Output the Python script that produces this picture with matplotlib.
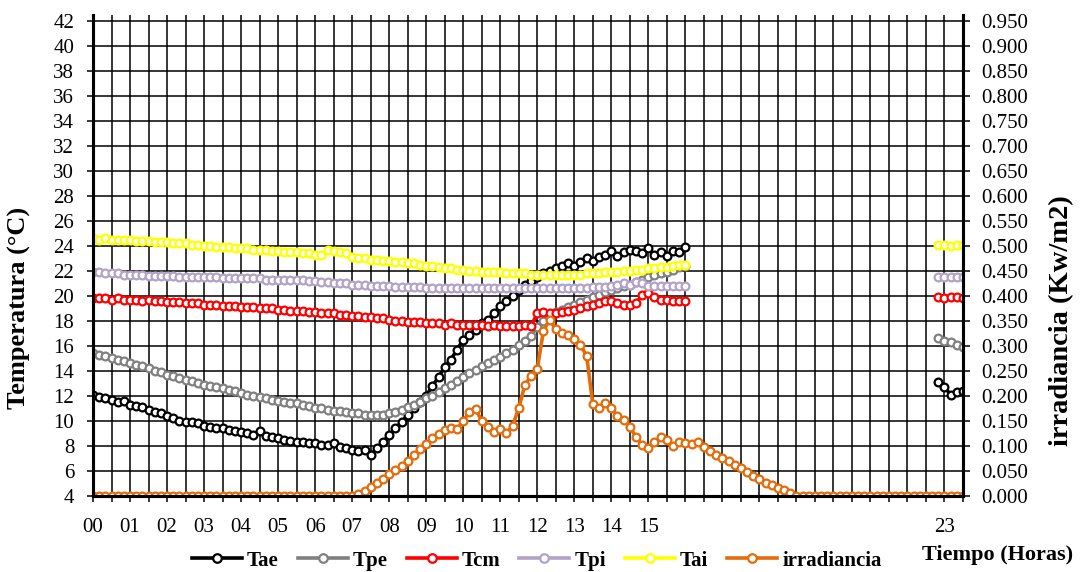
import numpy as np
from matplotlib import pyplot as plt
from matplotlib.lines import Line2D

plt.rcParams['font.family'] = ['Liberation Serif', 'DejaVu Serif']

STEP = 1 / 6  # readings every 10 minutes, in hours

# temperatures 00:00 - 16:00 [°C], one row per hour
tae = [12.1, 11.9, 11.8, 11.7, 11.5, 11.6,
       11.3, 11.2, 11.1, 10.9, 10.7, 10.6,
       10.4, 10.2, 10.0, 9.9, 9.9, 9.8,
       9.6, 9.5, 9.4, 9.4, 9.3, 9.2,
       9.1, 9.0, 8.9, 9.2, 8.8, 8.7,
       8.6, 8.5, 8.4, 8.3, 8.3, 8.2,
       8.2, 8.1, 8.1, 8.2, 7.9, 7.8,
       7.7, 7.6, 7.7, 7.3, 7.8, 8.3,
       8.9, 9.4, 9.9, 10.5, 11.0, 11.5,
       12.0, 12.8, 13.5, 14.3, 14.9, 15.7,
       16.5, 16.9, 17.3, 17.8, 18.1, 18.6,
       19.2, 19.6, 20.0, 20.5, 20.9, 21.2,
       21.5, 21.8, 22.0, 22.2, 22.4, 22.6,
       22.4, 22.7, 23.0, 22.8, 23.1, 23.3,
       23.6, 23.2, 23.5, 23.7, 23.6, 23.4,
       23.8, 23.3, 23.5, 23.2, 23.6, 23.5,
       23.9]
tpe = [15.4, 15.3, 15.2, 15.0, 14.9, 14.8,
       14.6, 14.5, 14.4, 14.2, 14.0, 13.9,
       13.7, 13.6, 13.4, 13.3, 13.2, 13.0,
       12.9, 12.8, 12.7, 12.6, 12.5, 12.4,
       12.2, 12.1, 12.0, 11.9, 11.8, 11.7,
       11.6, 11.5, 11.4, 11.4, 11.3, 11.2,
       11.0, 11.0, 10.9, 10.8, 10.8, 10.7,
       10.6, 10.6, 10.5, 10.45, 10.5, 10.5,
       10.6, 10.7, 10.9, 11.1, 11.3, 11.5,
       11.8, 12.0, 12.3, 12.6, 12.9, 13.2,
       13.5, 13.8, 14.1, 14.4, 14.6, 14.9,
       15.1, 15.4, 15.7, 16.1, 16.4, 16.8,
       17.5, 18.0, 18.3, 18.7, 18.9, 19.1,
       19.3, 19.5, 19.7, 19.9, 20.1, 20.3,
       20.5, 20.6, 20.8, 20.9, 21.1, 21.3,
       21.5, 21.7, 21.8, 21.9, 22.1, 22.3,
       22.4]
tcm = [19.8, 19.8, 19.8, 19.7, 19.8, 19.7,
       19.7, 19.7, 19.6, 19.7, 19.6, 19.6,
       19.5, 19.5, 19.5, 19.4, 19.4, 19.4,
       19.3, 19.3, 19.3, 19.2, 19.2, 19.2,
       19.1, 19.1, 19.1, 19.0, 19.0, 19.0,
       18.9, 18.9, 18.8, 18.8, 18.8, 18.7,
       18.7, 18.6, 18.6, 18.6, 18.5, 18.5,
       18.4, 18.4, 18.3, 18.3, 18.2, 18.2,
       18.1, 18.0, 18.0, 17.9, 17.9, 17.9,
       17.8, 17.8, 17.8, 17.7, 17.8, 17.7,
       17.7, 17.7, 17.7, 17.7, 17.6, 17.7,
       17.6, 17.6, 17.6, 17.6, 17.7, 17.6,
       18.6, 18.7, 18.6, 18.6, 18.7, 18.8,
       18.9, 19.0, 19.2, 19.3, 19.4, 19.6,
       19.6, 19.4, 19.3, 19.3, 19.4, 20.1,
       20.2, 19.9, 19.7, 19.7, 19.6, 19.6,
       19.6]
tpi = [21.9, 21.9, 21.8, 21.8, 21.8, 21.7,
       21.7, 21.7, 21.7, 21.6, 21.6, 21.6,
       21.6, 21.6, 21.5, 21.5, 21.5, 21.5,
       21.5, 21.5, 21.5, 21.4, 21.4, 21.4,
       21.4, 21.4, 21.4, 21.4, 21.3, 21.3,
       21.3, 21.3, 21.3, 21.3, 21.3, 21.2,
       21.2, 21.1, 21.1, 21.0, 21.0, 21.0,
       20.9, 20.9, 20.9, 20.8, 20.8, 20.8,
       20.8, 20.7, 20.7, 20.7, 20.7, 20.7,
       20.6, 20.6, 20.6, 20.6, 20.6, 20.6,
       20.6, 20.6, 20.6, 20.6, 20.6, 20.6,
       20.6, 20.6, 20.6, 20.6, 20.6, 20.6,
       20.6, 20.6, 20.6, 20.6, 20.6, 20.6,
       20.6, 20.6, 20.6, 20.7, 20.7, 20.7,
       20.8, 20.9, 21.0, 20.9, 21.1, 21.0,
       20.8, 20.8, 20.8, 20.8, 20.8, 20.8,
       20.8]
tai = [24.6, 24.5, 24.6, 24.5, 24.5, 24.5,
       24.5, 24.4, 24.4, 24.4, 24.3, 24.3,
       24.3, 24.2, 24.2, 24.2, 24.1, 24.1,
       24.0, 24.0, 23.9, 23.9, 23.9, 23.8,
       23.8, 23.8, 23.7, 23.7, 23.7, 23.6,
       23.6, 23.5, 23.5, 23.5, 23.4, 23.4,
       23.3, 23.3, 23.7, 23.6, 23.5, 23.4,
       23.1, 23.0, 23.0, 22.9, 22.9, 22.8,
       22.8, 22.7, 22.7, 22.6, 22.6, 22.5,
       22.4, 22.4, 22.3, 22.2, 22.2, 22.1,
       22.1, 22.0, 22.0, 21.9, 21.9, 21.9,
       21.9, 21.8, 21.8, 21.8, 21.8, 21.7,
       21.7, 21.7, 21.7, 21.7, 21.7, 21.7,
       21.7, 21.7, 21.8, 21.8, 21.8, 21.9,
       21.9, 21.9, 22.0, 22.0, 22.1, 22.1,
       22.2, 22.2, 22.3, 22.3, 22.4, 22.5,
       22.5]

# late readings 22:50 - 23:30 [°C]
NIGHT_START = 137  # index of 22:50 in the 10 minute grid
tae_night = [13.1, 12.7, 12.1, 12.3, 12.4]
tpe_night = [16.6, 16.4, 16.3, 16.1, 15.9]
tcm_night = [19.9, 19.8, 19.9, 19.9, 19.8]
tpi_night = [21.5, 21.5, 21.5, 21.5, 21.5]
tai_night = [24.1, 24.1, 24.0, 24.1, 24.1]

# solar irradiance 00:00 - 23:30 [Kw/m2], one row per hour
irradiancia = [0.0, 0.0, 0.0, 0.0, 0.0, 0.0,
               0.0, 0.0, 0.0, 0.0, 0.0, 0.0,
               0.0, 0.0, 0.0, 0.0, 0.0, 0.0,
               0.0, 0.0, 0.0, 0.0, 0.0, 0.0,
               0.0, 0.0, 0.0, 0.0, 0.0, 0.0,
               0.0, 0.0, 0.0, 0.0, 0.0, 0.0,
               0.0, 0.0, 0.0, 0.0, 0.0, 0.0,
               0.000, 0.003, 0.010, 0.018, 0.026, 0.034,
               0.044, 0.052, 0.060, 0.070, 0.082, 0.094,
               0.104, 0.116, 0.124, 0.132, 0.136, 0.134,
               0.150, 0.168, 0.174, 0.150, 0.138, 0.128,
               0.134, 0.126, 0.140, 0.176, 0.222, 0.240,
               0.254, 0.330, 0.352, 0.334, 0.326, 0.322,
               0.314, 0.302, 0.280, 0.184, 0.176, 0.186,
               0.176, 0.160, 0.152, 0.138, 0.118, 0.102,
               0.096, 0.108, 0.118, 0.112, 0.100, 0.108,
               0.106, 0.104, 0.108, 0.098, 0.090, 0.082,
               0.076, 0.070, 0.062, 0.056, 0.048, 0.040,
               0.034, 0.026, 0.022, 0.016, 0.012, 0.006,
               0.0, 0.0, 0.0, 0.0, 0.0, 0.0,
               0.0, 0.0, 0.0, 0.0, 0.0, 0.0,
               0.0, 0.0, 0.0, 0.0, 0.0, 0.0,
               0.0, 0.0, 0.0, 0.0, 0.0, 0.0,
               0.0, 0.0, 0.0, 0.0]

series_names = ['Tae', 'Tpe', 'Tcm', 'Tpi', 'Tai']
series_colors = ['#000000', '#808080', '#ff0000', '#b3a2c7', '#ffff00']
irr_color = '#e46c0a'

hour_ticks = [0, 1, 2, 3, 4, 5, 6, 7, 8, 9, 10, 11, 12, 13, 14, 15, 23]
hour_labels = ['00', '01', '02', '03', '04', '05', '06', '07', '08', '09',
               '10', '11', '12', '13', '14', '15', '23']


def style(color):
    return dict(color=color, lw=2.6, marker='o', ms=5.6, mew=1.6,
                mfc='white', mec=color)


def main():
    fig = plt.figure(figsize=(10.82, 5.72), dpi=100)
    ax = fig.add_axes([0.086, 0.133, 0.804, 0.841])

    t_day = np.arange(len(tae)) * STEP
    t_night = (NIGHT_START + np.arange(len(tae_night))) * STEP
    t_irr = np.arange(len(irradiancia)) * STEP

    day = [tae, tpe, tcm, tpi, tai]
    night = [tae_night, tpe_night, tcm_night, tpi_night, tai_night]
    handles = []
    for name, color, d, n in zip(series_names, series_colors, day, night):
        ax.plot(t_day, d, **style(color))
        ax.plot(t_night, n, **style(color))
        handles.append(Line2D([], [], label=name, **style(color)))

    # temperature axis (left)
    top = 42 + 6 / 12.5
    ax.set_xlim(0, 23.5)
    ax.set_ylim(4, top)
    ax.set_yticks(np.arange(4, 43, 2))
    half_hours = np.arange(0, 23.51, 0.5)
    ax.set_xticks(half_hours)
    ax.set_xticklabels([hour_labels[hour_ticks.index(h)] if h in hour_ticks else ''
                        for h in half_hours])
    ax.grid(True, color='black', lw=1.1)
    ax.set_axisbelow(True)
    ax.tick_params(axis='y', labelsize=15, length=4.5, width=1.1, pad=9)
    ax.tick_params(axis='x', labelsize=15, length=4, width=1.1, pad=12)

    # irradiance axis (right)
    ax2 = ax.twinx()
    ax2.plot(t_irr, irradiancia, **style(irr_color))
    handles.append(Line2D([], [], label='irradiancia', **style(irr_color)))
    ax2.set_ylim(0, (top - 4) / 40)
    ax2.set_yticks(np.arange(0, 0.951, 0.05))
    ax2.yaxis.set_major_formatter(plt.FormatStrFormatter('%.3f'))
    ax2.tick_params(axis='y', labelsize=15, length=5, width=1.1, pad=8)

    for a in (ax, ax2):
        a.spines['top'].set_visible(False)
        for side in ('left', 'right', 'bottom'):
            a.spines[side].set_linewidth(2.2)

    fig.text(0.018, 0.461, 'Temperatura (°C)', rotation=90, fontsize=19,
             fontweight='bold', ha='center', va='center')
    fig.text(0.981, 0.439, 'irradiancia (Kw/m2)', rotation=90, fontsize=20.5,
             fontweight='bold', ha='center', va='center')
    fig.text(0.922, 0.030, 'Tiempo (Horas)', fontsize=16,
             fontweight='bold', ha='center', va='center')

    fig.legend(handles=handles, loc='center', bbox_to_anchor=(0.496, 0.020),
               ncol=6, frameon=False, handlelength=2.4, handletextpad=0.25,
               columnspacing=0.9, markerscale=1.1,
               prop={'size': 15, 'weight': 'bold'})

    fig.savefig('out.png', dpi=100)


if __name__ == '__main__':
    main()
